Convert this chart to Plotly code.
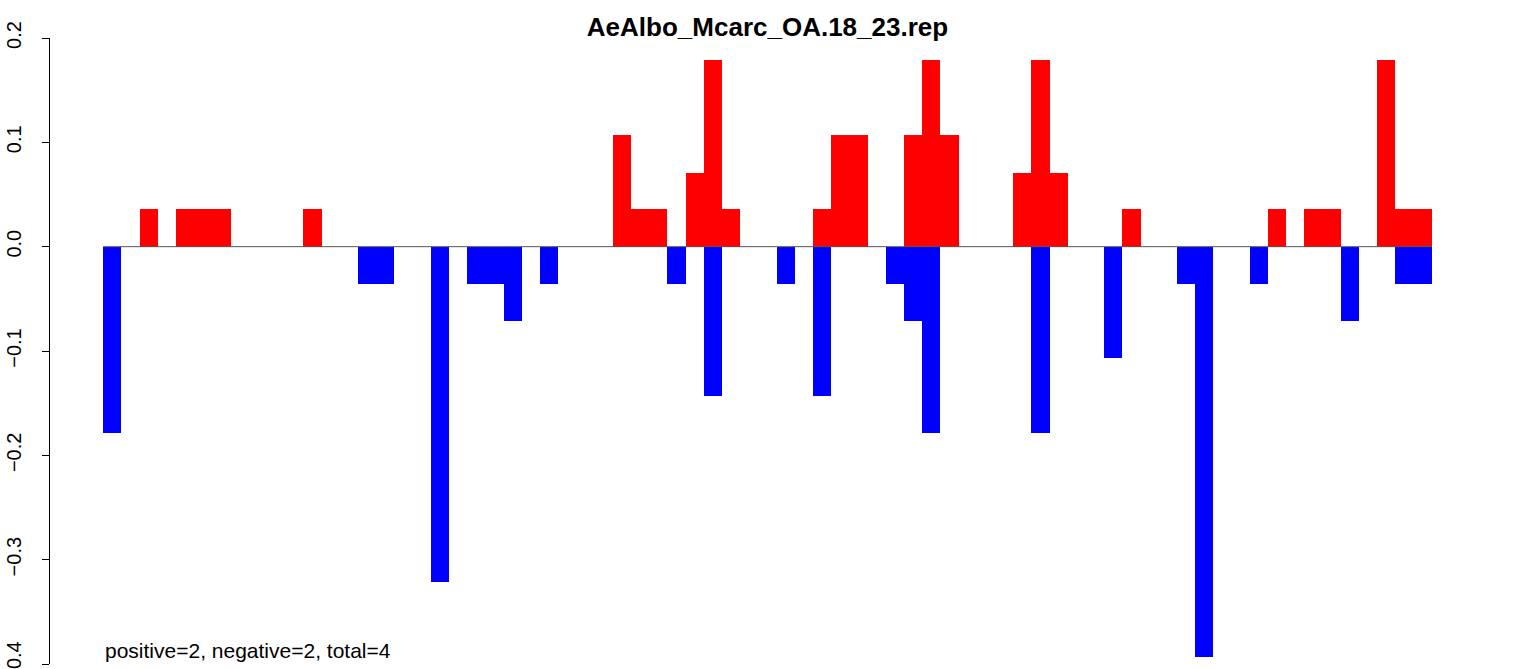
import plotly.graph_objects as go

# ---- data ----
title_text = "AeAlbo_Mcarc_OA.18_23.rep"
summary_text = "positive=2, negative=2, total=4"

positions = list(range(73))

positive_values = [
    0, 0, 0.036, 0, 0.036, 0.036, 0.036, 0, 0, 0,
    0, 0.036, 0, 0, 0, 0, 0, 0, 0, 0,
    0, 0, 0, 0, 0, 0, 0, 0, 0.107, 0.036,
    0.036, 0, 0.071, 0.179, 0.036, 0, 0, 0, 0, 0.036,
    0.107, 0.107, 0, 0, 0.107, 0.179, 0.107, 0, 0, 0,
    0.071, 0.179, 0.071, 0, 0, 0, 0.036, 0, 0, 0,
    0, 0, 0, 0, 0.036, 0, 0.036, 0.036, 0, 0,
    0.179, 0.036, 0.036,
]

negative_values = [
    -0.179, 0, 0, 0, 0, 0, 0, 0, 0, 0,
    0, 0, 0, 0, -0.036, -0.036, 0, 0, -0.321, 0,
    -0.036, -0.036, -0.071, 0, -0.036, 0, 0, 0, 0, 0,
    0, -0.036, 0, -0.143, 0, 0, 0, -0.036, 0, -0.143,
    0, 0, 0, -0.036, -0.071, -0.179, 0, 0, 0, 0,
    0, -0.179, 0, 0, 0, -0.107, 0, 0, 0, -0.036,
    -0.393, 0, 0, -0.036, 0, 0, 0, 0, -0.071, 0,
    0, -0.036, -0.036,
]

y_tick_values = [-0.4, -0.3, -0.2, -0.1, 0.0, 0.1, 0.2]

FONT = "Liberation Sans, Arial, Helvetica, sans-serif"

fig = go.Figure()
fig.add_trace(go.Bar(x=positions, y=positive_values, width=1.0,
                     marker=dict(color="#FF0000", line=dict(width=0)),
                     showlegend=False, hoverinfo="skip"))
fig.add_trace(go.Bar(x=positions, y=negative_values, width=1.0,
                     marker=dict(color="#0000FF", line=dict(width=0)),
                     showlegend=False, hoverinfo="skip"))

n = len(positions)
# baseline at zero, spanning the bars
fig.add_shape(type="line", xref="x", yref="y",
              x0=positions[0] - 0.5, x1=positions[-1] + 0.5, y0=0, y1=0,
              line=dict(color="#555555", width=1), layer="above")

pad = 0.04 * n
fig.update_xaxes(visible=False, automargin=False,
                 range=[positions[0] - 0.5 - pad, positions[-1] + 0.5 + pad])
fig.update_yaxes(range=[min(y_tick_values), max(y_tick_values)],
                 tickvals=y_tick_values, tickformat=".1f", automargin=False,
                 showgrid=False, zeroline=False,
                 showline=True, linecolor="black", linewidth=1,
                 ticks="outside", ticklen=7, tickwidth=1, tickcolor="black",
                 tickangle=-90, ticklabelstandoff=13, ticklabeloverflow="allow",
                 tickfont=dict(family=FONT, size=20, color="black"))

fig.add_annotation(text=summary_text, xref="x", yref="y",
                   x=positions[0] - 0.5, y=-0.387, xanchor="left", yanchor="middle",
                   showarrow=False, font=dict(family=FONT, size=21, color="black"))

fig.update_layout(
    width=1533, height=669,
    margin=dict(l=50, r=48, t=38, b=5, autoexpand=False),
    paper_bgcolor="white", plot_bgcolor="white",
    barmode="overlay", bargap=0,
    title=dict(text="<b>" + title_text + "</b>", x=0.5, xref="paper",
               y=1 - 26.5 / 669, yref="container", yanchor="middle",
               font=dict(family=FONT, size=26, color="black")),
)

fig.write_html("out.html", config={"displayModeBar": False},
               post_script="document.body.style.margin='0';")
